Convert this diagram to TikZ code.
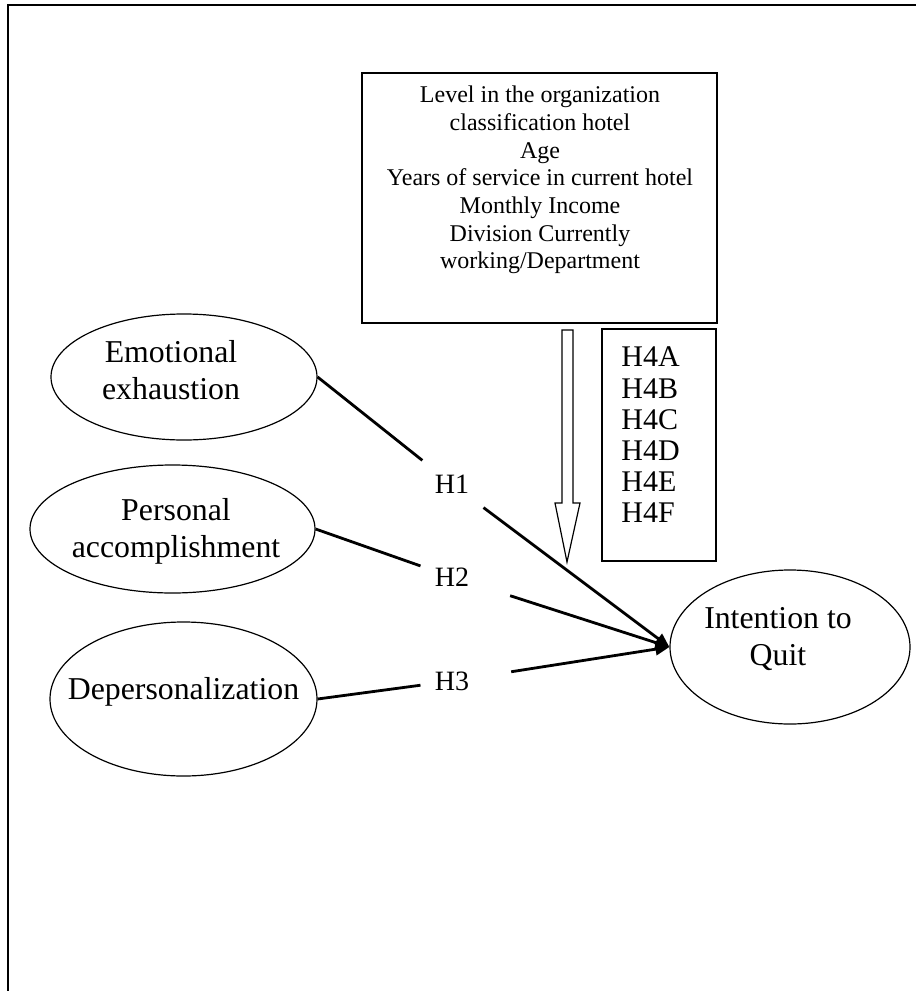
\documentclass[tikz,border=0pt]{standalone}
\usepackage{fontspec}
\setmainfont{Liberation Serif}
\usetikzlibrary{arrows.meta,shapes.geometric}

\tikzset{
  latent/.style={draw, ellipse, line width=0.6pt, inner sep=0pt},
  bigtxt/.style={align=center, inner sep=0pt, font=\fontsize{15.9pt}{18.5pt}\selectfont},
  hyp/.style={inner sep=7pt, font=\fontsize{14pt}{15.6pt}\selectfont},
  ctrlbox/.style={draw, line width=1pt, inner sep=0pt},
  link/.style={line width=1.4pt, ->}
}

\begin{document}
\begin{tikzpicture}[x=0.5pt, y=-0.5pt, >={Triangle[length=7pt,width=6pt]}]
        \useasboundingbox (0,0) rectangle (916,991);

        % Frame
        \draw[line width=0.9pt] (8,991) -- (8,5) -- (916,5);

        % Control variables
        \node[ctrlbox, minimum width=177.5pt, minimum height=125pt] (ctrl) at (539.5,198) {};
        \node[align=center, inner sep=0pt, font=\fontsize{12pt}{13.85pt}\selectfont] (ctrlTxt) at (540,180)
            {Level in the organization\\classification hotel\\Age\\Years of service in current hotel\\Monthly Income\\Division Currently\\working/Department};

        \node[ctrlbox, minimum width=57pt, minimum height=116pt] (hfour) at (659,445) {};
        \node[align=left, anchor=west, inner sep=0pt, font=\fontsize{15pt}{15.6pt}\selectfont] (hfourTxt) at (621,435)
            {H4A\\H4B\\H4C\\H4D\\H4E\\H4F};

        % Moderating arrow
        \draw[line width=0.6pt, fill=white] (562,330) -- (573,330) -- (573,503) -- (580,503)
            -- (567,562) -- (555,503) -- (562,503) -- cycle;

        % Constructs
        \node[latent, minimum width=133pt, minimum height=63pt] (emo) at (184,377) {};
        \node[latent, minimum width=142.5pt, minimum height=64pt] (pers) at (172.5,529) {};
        \node[latent, minimum width=133.5pt, minimum height=77pt] (dep) at (183.5,699) {};
        \node[latent, minimum width=120pt, minimum height=77pt] (quit) at (790,647) {};

        \node[bigtxt] (emoTxt) at (171,370) {Emotional\\exhaustion};
        \node[bigtxt] (persTxt) at (176,531) {Personal\\accomplishment};
        \node[bigtxt] (depTxt) at (183.5,692) {Depersonalization};
        \node[bigtxt] (quitTxt) at (778,639) {Intention to\\Quit};

        % Hypotheses
        \node[hyp] (hone) at (452,484) {H1};
        \node[hyp] (htwo) at (452,577) {H2};
        \node[hyp] (hthree) at (452,681) {H3};

        \draw[line width=1.4pt] (emo.east) -- (hone);
        \draw[line width=1.4pt] (pers.east) -- (htwo);
        \draw[line width=1.4pt] (dep.east) -- (hthree);
        \draw[link] (hone) -- (quit.west);
        \draw[link, shorten <=14pt] (htwo) -- (quit.west);
        \draw[link, shorten <=14pt] (hthree) -- (quit.west);
    \end{tikzpicture}
\end{document}
